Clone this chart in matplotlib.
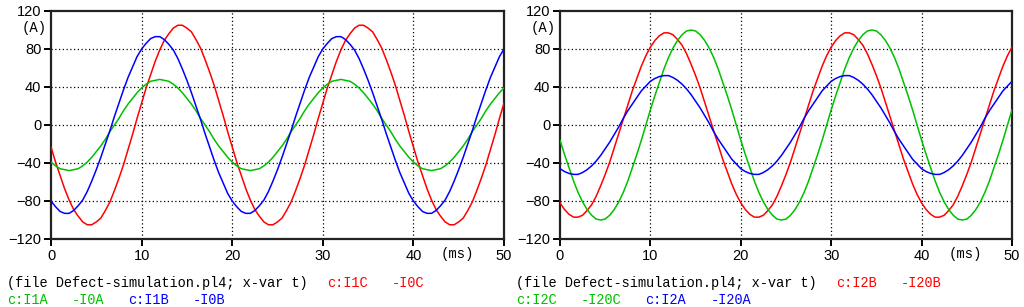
import matplotlib
matplotlib.use("Agg")
import matplotlib.pyplot as plt
import numpy as np

# time axis (ms), values read every 0.5 ms
t_ms = np.arange(0, 50.5, 0.5)

# left panel: I1 - I0 currents (A)
i1c_i0c = [-23, -39, -53, -67, -79, -89, -96, -102, -105, -105, -102, -98, -90, -81, -69, -56, -42, -26, -10, 7,
           23, 39, 53, 67, 79, 89, 96, 102, 105, 105, 102, 98, 90, 81, 69, 56, 42, 26, 10, -7,
           -23, -39, -53, -67, -79, -89, -96, -102, -105, -105, -102, -98, -90, -81, -69, -56, -42, -26, -10, 7,
           23, 39, 53, 67, 79, 89, 96, 102, 105, 105, 102, 98, 90, 81, 69, 56, 42, 26, 10, -7,
           -23, -39, -53, -67, -79, -89, -96, -102, -105, -105, -102, -98, -90, -81, -69, -56, -42, -26, -10, 7,
           23]
i1a_i0a = [-39, -43, -46, -47, -48, -47, -46, -43, -39, -34, -28, -22, -15, -7, 0, 7, 15, 22, 28, 34,
           39, 43, 46, 47, 48, 47, 46, 43, 39, 34, 28, 22, 15, 7, 0, -7, -15, -22, -28, -34,
           -39, -43, -46, -47, -48, -47, -46, -43, -39, -34, -28, -22, -15, -7, 0, 7, 15, 22, 28, 34,
           39, 43, 46, 47, 48, 47, 46, 43, 39, 34, 28, 22, 15, 7, 0, -7, -15, -22, -28, -34,
           -39, -43, -46, -47, -48, -47, -46, -43, -39, -34, -28, -22, -15, -7, 0, 7, 15, 22, 28, 34,
           39]
i1b_i0b = [-80, -86, -91, -93, -93, -90, -85, -79, -70, -59, -47, -34, -20, -6, 9, 23, 37, 50, 61, 72,
           80, 86, 91, 93, 93, 90, 85, 79, 70, 59, 47, 34, 20, 6, -9, -23, -37, -50, -61, -72,
           -80, -86, -91, -93, -93, -90, -85, -79, -70, -59, -47, -34, -20, -6, 9, 23, 37, 50, 61, 72,
           80, 86, 91, 93, 93, 90, 85, 79, 70, 59, 47, 34, 20, 6, -9, -23, -37, -50, -61, -72,
           -80, -86, -91, -93, -93, -90, -85, -79, -70, -59, -47, -34, -20, -6, 9, 23, 37, 50, 61, 72,
           80]

# right panel: I2 - I20 currents (A)
i2b_i20b = [-82, -89, -94, -97, -97, -95, -90, -84, -75, -64, -52, -39, -24, -9, 6, 21, 36, 49, 62, 73,
            82, 89, 94, 97, 97, 95, 90, 84, 75, 64, 52, 39, 24, 9, -6, -21, -36, -49, -62, -73,
            -82, -89, -94, -97, -97, -95, -90, -84, -75, -64, -52, -39, -24, -9, 6, 21, 36, 49, 62, 73,
            82, 89, 94, 97, 97, 95, 90, 84, 75, 64, 52, 39, 24, 9, -6, -21, -36, -49, -62, -73,
            -82, -89, -94, -97, -97, -95, -90, -84, -75, -64, -52, -39, -24, -9, 6, 21, 36, 49, 62, 73,
            82]
i2c_i20c = [-16, -31, -45, -59, -71, -81, -89, -95, -99, -100, -99, -95, -89, -81, -71, -59, -45, -31, -16, 0,
            16, 31, 45, 59, 71, 81, 89, 95, 99, 100, 99, 95, 89, 81, 71, 59, 45, 31, 16, 0,
            -16, -31, -45, -59, -71, -81, -89, -95, -99, -100, -99, -95, -89, -81, -71, -59, -45, -31, -16, 0,
            16, 31, 45, 59, 71, 81, 89, 95, 99, 100, 99, 95, 89, 81, 71, 59, 45, 31, 16, 0,
            -16, -31, -45, -59, -71, -81, -89, -95, -99, -100, -99, -95, -89, -81, -71, -59, -45, -31, -16, 0,
            16]
i2a_i20a = [-46, -49, -51, -52, -52, -50, -47, -43, -38, -32, -25, -18, -10, -2, 7, 15, 22, 29, 36, 41,
            46, 49, 51, 52, 52, 50, 47, 43, 38, 32, 25, 18, 10, 2, -7, -15, -22, -29, -36, -41,
            -46, -49, -51, -52, -52, -50, -47, -43, -38, -32, -25, -18, -10, -2, 7, 15, 22, 29, 36, 41,
            46, 49, 51, 52, 52, 50, 47, 43, 38, 32, 25, 18, 10, 2, -7, -15, -22, -29, -36, -41,
            -46, -49, -51, -52, -52, -50, -47, -43, -38, -32, -25, -18, -10, -2, 7, 15, 22, 29, 36, 41,
            46]

RED = "#ff0000"
GREEN = "#00c000"
BLUE = "#0000ff"

W, H = 1024, 307
MONO = "Liberation Mono"


def px(x, y):
    return x / W, 1 - y / H


def style_axes(ax):
    ax.set_xlim(0, 50)
    ax.set_ylim(-120, 120)
    ax.set_xticks(range(0, 51, 10))
    ax.set_yticks(range(-120, 121, 40))
    for spine in ax.spines.values():
        spine.set_linewidth(1.6)
        spine.set_color("#222222")
    ax.tick_params(direction="out", length=5, width=1.4, labelsize=10.5,
                   pad=2, colors="black")
    for lab in ax.get_xticklabels() + ax.get_yticklabels():
        lab.set_family("Liberation Sans")
    for v in (10, 20, 30, 40):
        ax.axvline(v, color="black", lw=0.9, ls=(0, (1, 2)), zorder=1)
    for v in (-80, -40, 0, 40, 80):
        ax.axhline(v, color="black", lw=0.9, ls=(0, (1, 2)), zorder=1)
    ax.text(-0.037, 0.925, "(A)", transform=ax.transAxes, family=MONO,
            fontsize=10, ha="center", va="center")
    ax.text(44.8, -0.065, "(ms)", transform=ax.get_xaxis_transform(),
            family=MONO, fontsize=10, ha="center", va="center")


def label_row(fig, y, items):
    for x, s, c in items:
        fx, fy = px(x, y)
        fig.text(fx, fy, s, color=c, family=MONO, fontsize=9.8,
                 ha="left", va="center")


def main():
    fig = plt.figure(figsize=(W / 100, H / 100), dpi=100)
    ax0 = fig.add_axes([51 / W, (H - 239) / H, 453 / W, 228 / H])
    ax1 = fig.add_axes([560 / W, (H - 239) / H, 452 / W, 228 / H])

    ax0.plot(t_ms, i1c_i0c, color=RED, lw=1.1, zorder=3)
    ax0.plot(t_ms, i1a_i0a, color=GREEN, lw=1.1, zorder=3)
    ax0.plot(t_ms, i1b_i0b, color=BLUE, lw=1.1, zorder=3)

    ax1.plot(t_ms, i2b_i20b, color=RED, lw=1.1, zorder=3)
    ax1.plot(t_ms, i2c_i20c, color=GREEN, lw=1.1, zorder=3)
    ax1.plot(t_ms, i2a_i20a, color=BLUE, lw=1.1, zorder=3)

    for ax in (ax0, ax1):
        style_axes(ax)

    # legend text under each panel
    label_row(fig, 283, [(7, "(file Defect-simulation.pl4; x-var t)", "black"),
                         (327, "c:I1C", RED), (392, "-I0C", RED)])
    label_row(fig, 300, [(7, "c:I1A", GREEN), (72, "-I0A", GREEN),
                         (128, "c:I1B", BLUE), (193, "-I0B", BLUE)])
    label_row(fig, 283, [(516, "(file Defect-simulation.pl4; x-var t)", "black"),
                         (836, "c:I2B", RED), (901, "-I20B", RED)])
    label_row(fig, 300, [(516, "c:I2C", GREEN), (581, "-I20C", GREEN),
                         (645, "c:I2A", BLUE), (711, "-I20A", BLUE)])

    fig.savefig("out.png", dpi=100)


if __name__ == "__main__":
    main()
